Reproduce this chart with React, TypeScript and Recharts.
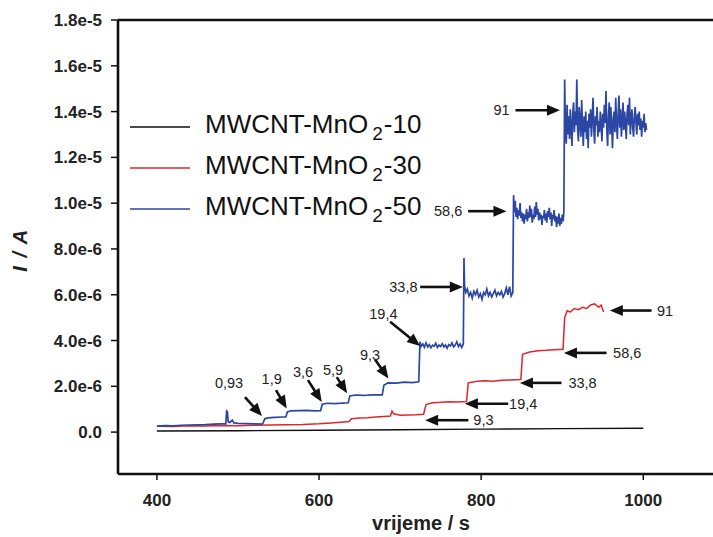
import React from 'react';
import { LineChart, Line, XAxis, YAxis, ReferenceLine, ReferenceDot, Legend } from 'recharts';

// time (s) , current (in 1e-6 A)
const black10: [number, number][] = [
  [400, 0.05], [500, 0.06], [600, 0.08], [700, 0.1], [800, 0.13], [900, 0.15], [1000, 0.17],
];

const red30: [number, number][] = [
  [400, 0.26], [420, 0.25], [440, 0.28], [460, 0.27], [480, 0.29], [500, 0.28], [520, 0.3], [540, 0.31],
  [560, 0.32], [580, 0.33], [600, 0.36], [615, 0.4], [630, 0.44], [637, 0.46], [640, 0.58], [650, 0.62],
  [660, 0.63], [670, 0.66], [680, 0.68], [688, 0.7], [690, 0.92], [692, 0.8], [700, 0.74], [710, 0.75],
  [720, 0.76], [729, 0.78], [732, 1.2], [740, 1.28], [750, 1.3], [760, 1.33], [770, 1.32], [782, 1.34],
  [784, 2.15], [795, 2.22], [805, 2.24], [815, 2.22], [825, 2.26], [835, 2.28], [849, 2.3], [851, 3.4],
  [860, 3.5], [870, 3.55], [880, 3.57], [890, 3.6], [901, 3.62], [903, 5.0], [906, 5.3], [910, 5.25],
  [915, 5.4], [920, 5.35], [925, 5.45], [930, 5.4], [935, 5.55], [940, 5.6], [945, 5.45], [948, 5.55], [951, 5.25],
];

const blue50: [number, number][] = [
  [400, 0.26], [410, 0.28], [420, 0.27], [430, 0.3], [440, 0.31], [450, 0.32], [460, 0.33], [470, 0.35],
  [480, 0.36], [485, 0.36], [486, 0.92], [487, 0.88], [488, 0.45], [490, 0.42], [493, 0.52], [495, 0.4],
  [500, 0.38], [510, 0.37], [520, 0.36], [530, 0.35], [531, 0.4], [533, 0.58], [537, 0.62], [545, 0.64],
  [555, 0.66], [559, 0.66], [561, 0.88], [565, 0.93], [575, 0.94], [585, 0.95], [595, 0.93], [602, 0.94],
  [604, 1.22], [610, 1.26], [620, 1.24], [630, 1.27], [636, 1.28], [638, 1.58], [645, 1.62], [655, 1.6],
  [665, 1.63], [678, 1.63], [680, 2.05], [685, 2.15], [695, 2.14], [705, 2.18], [715, 2.16], [723, 2.2],
  [724.5, 3.95], [726, 3.75], [728, 3.85], [730, 3.7], [732, 3.9], [734, 3.72], [736, 3.82], [738, 3.68],
  [740, 3.8], [742, 3.75], [744, 3.88], [746, 3.7], [748, 3.8], [750, 3.74], [752, 3.86], [754, 3.72],
  [756, 3.8], [758, 3.66], [760, 3.82], [762, 3.76], [764, 3.9], [766, 3.72], [768, 3.8], [770, 3.95],
  [772, 3.74], [774, 3.85], [776, 3.7], [778, 3.85], [778.8, 7.6], [779.5, 6.4], [781, 6.1], [783, 6.25],
  [785, 5.95], [787, 6.1], [789, 5.85], [791, 6.15], [793, 6.0], [795, 6.2], [797, 5.9], [799, 6.05],
  [801, 5.8], [803, 6.1], [805, 6.0], [807, 6.25], [809, 5.95], [811, 6.1], [813, 5.9], [815, 6.05],
  [817, 6.2], [819, 5.95], [821, 6.1], [823, 6.0], [825, 6.15], [827, 5.9], [829, 6.05], [831, 6.3],
  [833, 6.0], [835, 6.35], [837, 5.95], [839, 6.1], [840, 10.35], [841, 9.6], [842, 10.1], [843, 9.4],
  [844, 9.8], [845, 9.3], [846, 9.7], [847, 9.45], [848, 10.0], [849, 9.35], [850, 9.6], [851, 9.2],
  [852, 9.55], [853, 9.1], [854, 9.5], [855, 9.3], [856, 9.75], [857, 9.2], [858, 9.6], [859, 9.35],
  [860, 9.9], [861, 9.4], [862, 9.75], [863, 9.15], [864, 9.5], [865, 9.3], [866, 9.85], [867, 9.4],
  [868, 10.05], [869, 9.5], [870, 9.75], [871, 9.25], [872, 9.6], [873, 9.3], [874, 9.5], [875, 9.05],
  [876, 9.45], [877, 9.35], [878, 9.7], [879, 9.25], [880, 9.55], [881, 9.15], [882, 9.65], [883, 9.4],
  [884, 9.8], [885, 9.3], [886, 9.6], [887, 9.0], [888, 9.5], [889, 9.3], [890, 9.7], [891, 9.2],
  [892, 9.45], [893, 8.95], [894, 9.4], [895, 9.1], [896, 9.55], [897, 9.0], [898, 9.35], [899, 9.1],
  [900, 9.5], [901, 9.2], [902, 9.6], [903, 15.4], [904, 13.2], [905, 12.6], [906, 14.3], [907, 13.0],
  [908, 13.8], [909, 12.8], [910, 14.1], [911, 13.3], [912, 12.5], [913, 13.9], [914, 14.4], [915, 13.1],
  [916, 14.0], [917, 13.4], [918, 15.4], [919, 13.2], [920, 12.7], [921, 14.2], [922, 13.6], [923, 12.9],
  [924, 14.5], [925, 13.4], [926, 12.5], [927, 13.8], [928, 13.1], [929, 14.0], [930, 12.8], [931, 13.6],
  [932, 12.4], [933, 13.9], [934, 13.3], [935, 14.1], [936, 12.9], [937, 13.7], [938, 14.6], [939, 13.2],
  [940, 12.6], [941, 13.8], [942, 13.4], [943, 14.2], [944, 12.9], [945, 13.6], [946, 13.1], [947, 14.0],
  [948, 13.5], [949, 12.7], [950, 13.9], [951, 13.3], [952, 14.3], [953, 13.5], [954, 14.9], [955, 13.2],
  [956, 12.5], [957, 13.8], [958, 14.4], [959, 13.0], [960, 14.2], [961, 13.4], [962, 12.4], [963, 13.7],
  [964, 14.0], [965, 13.1], [966, 14.6], [967, 13.5], [968, 12.8], [969, 13.9], [970, 14.7], [971, 13.3],
  [972, 14.1], [973, 12.9], [974, 13.6], [975, 14.4], [976, 13.2], [977, 14.0], [978, 13.5], [979, 12.8],
  [980, 13.9], [981, 14.3], [982, 13.4], [983, 14.6], [984, 13.0], [985, 13.7], [986, 14.1], [987, 13.3],
  [988, 12.9], [989, 13.8], [990, 14.2], [991, 13.5], [992, 13.0], [993, 13.9], [994, 13.4], [995, 14.0],
  [996, 13.2], [997, 13.7], [998, 12.9], [999, 13.6], [1000, 13.3], [1001, 13.9], [1002, 13.1], [1003, 13.5],
  [1004, 13.2],
];

const xTicks = [400, 600, 800, 1000];
const yTicks = [0, 2, 4, 6, 8, 10, 12, 14, 16, 18];

const seriesNames = ['MWCNT-MnO2-10', 'MWCNT-MnO2-30', 'MWCNT-MnO2-50'];
const legendParts: [string, string, string][] = [
  ['MWCNT-MnO', '2', '-10'],
  ['MWCNT-MnO', '2', '-30'],
  ['MWCNT-MnO', '2', '-50'],
];
const seriesColors = ['#111111', '#e2242a', '#2b46a3'];

// annotation: label, text position, arrow from -> to (data units)
const annotations = [
  { label: '0,93', tx: 489, ty: 2.15, x1: 508.6, y1: 1.53, x2: 529.6, y2: 0.7 },
  { label: '1,9', tx: 541.6, ty: 2.31, x1: 546.9, y1: 1.83, x2: 560.1, y2: 1.03 },
  { label: '3,6', tx: 580.2, ty: 2.63, x1: 586.4, y1: 2.27, x2: 603.3, y2: 1.32 },
  { label: '5,9', tx: 617.3, ty: 2.71, x1: 621.9, y1: 2.4, x2: 634.6, y2: 1.7 },
  { label: '9,3', tx: 663, ty: 3.36, x1: 669.1, y1: 3.17, x2: 685.6, y2: 2.34 },
  { label: '19,4', tx: 679.4, ty: 5.15, x1: 687.7, y1: 4.82, x2: 724.7, y2: 3.76 },
  { label: '33,8', tx: 704.1, ty: 6.34, x1: 724.7, y1: 6.34, x2: 777.4, y2: 6.34 },
  { label: '58,6', tx: 759.3, ty: 9.65, x1: 783.9, y1: 9.65, x2: 831.2, y2: 9.65 },
  { label: '91', tx: 825.1, ty: 14.06, x1: 842.3, y1: 14.06, x2: 897.2, y2: 14.06 },
  { label: '9,3', tx: 802.8, ty: 0.52, x1: 784.3, y1: 0.52, x2: 730.9, y2: 0.52 },
  { label: '19,4', tx: 851.9, ty: 1.24, x1: 833.3, y1: 1.24, x2: 779.9, y2: 1.24 },
  { label: '33,8', tx: 925.1, ty: 2.15, x1: 899.1, y1: 2.15, x2: 847.8, y2: 2.15 },
  { label: '58,6', tx: 980.2, ty: 3.46, x1: 954.7, y1: 3.46, x2: 902.1, y2: 3.46 },
  { label: '91', tx: 1026.8, ty: 5.31, x1: 1010.2, y1: 5.31, x2: 958.8, y2: 5.31 },
];

const FONT = 'Liberation Sans, Arial, Helvetica, sans-serif';

const toRows = (arr: [number, number][]) => arr.map(([t, v]) => ({ t, v }));
const seriesData = [toRows(black10), toRows(red30), toRows(blue50)];
const seriesWidths = [1.4, 1.5, 1.7];

const Arrow = (p: any) => {
  const { x1, y1, x2, y2 } = p;
  const dx = x2 - x1;
  const dy = y2 - y1;
  const len = Math.hypot(dx, dy) || 1;
  const ux = dx / len;
  const uy = dy / len;
  const hl = 13;
  const hw = 5.5;
  const bx = x2 - ux * hl;
  const by = y2 - uy * hl;
  const pts = `${x2},${y2} ${bx - uy * hw},${by + ux * hw} ${bx + uy * hw},${by - ux * hw}`;
  return (
    <g>
      <line x1={x1} y1={y1} x2={bx + ux} y2={by + uy} stroke="#111" strokeWidth={2.6} />
      <polygon points={pts} fill="#111" />
    </g>
  );
};

const fmtY = (v: number) => (v === 0 ? '0.0' : (v * 1e-6).toExponential(1));

const LegendContent = () => (
  <svg width={330} height={130} style={{ display: 'block' }}>
    {legendParts.map((parts, i) => {
      const cy = 27 + i * 41;
      return (
        <g key={seriesNames[i]}>
          <line x1={2} y1={cy} x2={62} y2={cy} stroke={seriesColors[i]} strokeWidth={1.6} />
          <text x={77} y={cy + 6} fontFamily={FONT} fontSize={26} fill="#111">
            {parts[0]}
            <tspan dx={4} dy={7} fontSize={19}>{parts[1]}</tspan>
            <tspan dx={1} dy={-7}>{parts[2]}</tspan>
          </text>
        </g>
      );
    })}
  </svg>
);

export default function App() {
  return (
    <div style={{ position: 'absolute', left: 0, top: 0 }}>
      <LineChart width={713} height={537} margin={{ top: 20, right: 0, bottom: 0, left: 0 }}>
        <XAxis
          type="number"
          dataKey="t"
          domain={[352, 1086]}
          ticks={xTicks}
          allowDataOverflow
          height={63}
          axisLine={{ stroke: '#111', strokeWidth: 2.6 }}
          tickLine={{ stroke: '#111', strokeWidth: 1.5 }}
          tickSize={6}
          tickMargin={14}
          tick={{ fill: '#222', fontSize: 17, fontWeight: 'bold', fontFamily: FONT }}
          label={{
            content: () => (
              <text x={421} y={530} textAnchor="middle" fontFamily={FONT} fontWeight="bold" fontSize={20} fill="#222">
                vrijeme / s
              </text>
            ),
          }}
        />
        <YAxis
          type="number"
          domain={[-1.83, 18]}
          ticks={yTicks}
          allowDataOverflow
          width={118}
          tickFormatter={fmtY}
          axisLine={{ stroke: '#111', strokeWidth: 2.6 }}
          tickLine={{ stroke: '#111', strokeWidth: 1.5 }}
          tickSize={7}
          tickMargin={9}
          tick={{ fill: '#222', fontSize: 17, fontWeight: 'bold', fontFamily: FONT }}
          label={{
            content: () => (
              <text
                transform="translate(27,250) rotate(-90)"
                textAnchor="middle"
                fontFamily={FONT}
                fontWeight="bold"
                fontStyle="italic"
                fontSize={20}
                letterSpacing={1.5}
                fill="#222"
              >
                I / A
              </text>
            ),
          }}
        />
        <ReferenceLine y={18} stroke="#111" strokeWidth={2.6} ifOverflow="visible" />
        {seriesData.map((d, i) => (
          <Line
            key={seriesNames[i]}
            data={d}
            dataKey="v"
            name={seriesNames[i]}
            type="linear"
            stroke={seriesColors[i]}
            strokeWidth={seriesWidths[i]}
            dot={false}
            activeDot={false}
            isAnimationActive={false}
          />
        ))}
        {annotations.map((a, i) => (
          <ReferenceLine
            key={'arr' + i}
            segment={[{ x: a.x1, y: a.y1 }, { x: a.x2, y: a.y2 }]}
            ifOverflow="visible"
            shape={(p: any) => <Arrow {...p} />}
          />
        ))}
        {annotations.map((a, i) => (
          <ReferenceDot
            key={'lbl' + i}
            x={a.tx}
            y={a.ty}
            r={0}
            ifOverflow="visible"
            shape={(p: any) => (
              <text x={p.cx} y={p.cy} dy="0.36em" textAnchor="middle" fontFamily={FONT} fontSize={14.5} fill="#222">
                {a.label}
              </text>
            )}
          />
        ))}
        <Legend
          layout="vertical"
          align="center"
          verticalAlign="middle"
          content={() => <LegendContent />}
          wrapperStyle={{ position: 'absolute', left: 128, top: 100, width: 330, height: 130 }}
        />
      </LineChart>
    </div>
  );
}
